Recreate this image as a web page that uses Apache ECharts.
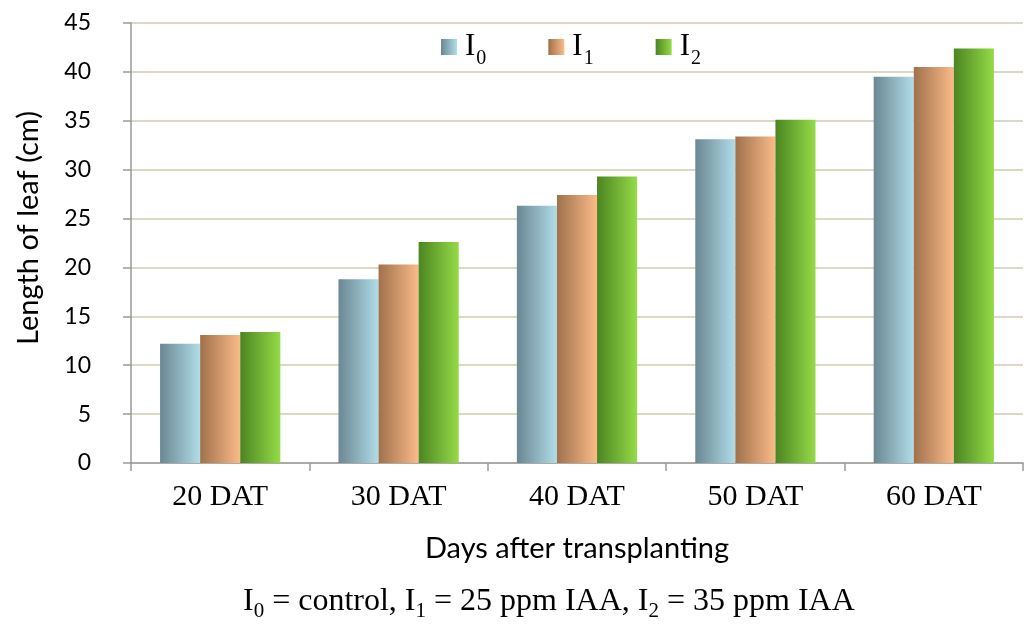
<!DOCTYPE html>
<html>
<head>
<meta charset="utf-8">
<script src="https://cdn.jsdelivr.net/npm/echarts@6/dist/echarts.min.js"></script>
<style>
  html, body { margin: 0; padding: 0; background: #ffffff; }
  #chart { width: 1025px; height: 625px; }
</style>
</head>
<body>
<div id="chart"></div>
<script>
// Leaf length (cm) by days after transplanting, for three IAA treatments
const categories = ['20 DAT', '30 DAT', '40 DAT', '50 DAT', '60 DAT'];
const seriesNames = ['I0', 'I1', 'I2'];
const valuesI0 = [12.2, 18.8, 26.3, 33.1, 39.5];
const valuesI1 = [13.1, 20.3, 27.4, 33.4, 40.5];
const valuesI2 = [13.4, 22.6, 29.3, 35.1, 42.4];
const yTicks = [0, 5, 10, 15, 20, 25, 30, 35, 40, 45];

// left-to-right shading for each treatment
const shades = [
  ['#6b8792', '#b0dde9'],
  ['#a0714c', '#fbbb88'],
  ['#4b8521', '#95db48']
];

function gradient(pair) {
  return {
    type: 'linear', x: 0, y: 0, x2: 1, y2: 0,
    colorStops: [{ offset: 0, color: pair[0] }, { offset: 1, color: pair[1] }]
  };
}

const serif = '"Liberation Serif", "Times New Roman", serif';
const sans = 'Lato, "Noto Sans", sans-serif';

const chart = echarts.init(document.getElementById('chart'));
const allValues = [valuesI0, valuesI1, valuesI2];

chart.setOption({
  animation: false,
  backgroundColor: '#ffffff',
  grid: { left: 131, right: 2, top: 23, bottom: 162 },
  legend: {
    left: 436,
    top: 26,
    itemWidth: 16,
    itemHeight: 16,
    itemGap: 62,
    icon: 'rect',
    data: seriesNames,
    formatter: function (name) {
      return '{m|I}{s|' + name.slice(1) + '}';
    },
    textStyle: {
      padding: [0, 0, 0, 3],
      rich: {
        m: { fontFamily: serif, fontSize: 31, color: '#000', lineHeight: 30, verticalAlign: 'bottom' },
        s: { fontFamily: serif, fontSize: 20, color: '#000', lineHeight: 20, verticalAlign: 'bottom', padding: [0, 0, -7, 1] }
      }
    }
  },
  xAxis: {
    type: 'category',
    data: categories,
    name: 'Days after transplanting',
    nameLocation: 'middle',
    nameGap: 71,
    nameTextStyle: { fontFamily: sans, fontSize: 29, color: '#000' },
    axisLine: { lineStyle: { color: '#9a9a9a', width: 1.5 } },
    axisTick: { show: true, alignWithLabel: false, length: 8, lineStyle: { color: '#9a9a9a', width: 1.5 } },
    axisLabel: { fontFamily: serif, fontSize: 30, color: '#000', margin: 19 },
    splitLine: { show: false }
  },
  yAxis: {
    type: 'value',
    min: 0,
    max: 45,
    interval: 5,
    axisLine: { show: true, lineStyle: { color: '#9a9a9a', width: 1.5 } },
    axisTick: { show: true, length: 8, lineStyle: { color: '#9a9a9a', width: 1.5 } },
    axisLabel: {
      fontFamily: sans, fontSize: 23, color: '#000', margin: 40,
      formatter: function (v) { return yTicks.indexOf(v) >= 0 ? String(v) : ''; }
    },
    splitLine: { show: true, lineStyle: { color: '#ddd8c4', width: 2 } }
  },
  series: seriesNames.map(function (name, i) {
    return {
      name: name,
      type: 'bar',
      data: allValues[i],
      barGap: '0%',
      barCategoryGap: '32.6%',
      itemStyle: { color: gradient(shades[i]) }
    };
  }),
  graphic: [
    {
      // vertical axis title
      type: 'text',
      x: 29,
      y: 228,
      rotation: Math.PI / 2,
      style: {
        text: 'Length of leaf (cm)',
        fontFamily: sans,
        fontSize: 29,
        fill: '#000',
        align: 'center',
        verticalAlign: 'middle'
      }
    },
    {
      // treatment key below the chart
      type: 'text',
      left: 243,
      top: 586,
      style: {
        text: '{m|I}{s|0}{m| = control, I}{s|1}{m| = 25 ppm IAA, I}{s|2}{m| = 35 ppm IAA}',
        rich: {
          m: { fontFamily: serif, fontSize: 32, fill: '#000', lineHeight: 34, verticalAlign: 'bottom' },
          s: { fontFamily: serif, fontSize: 21, fill: '#000', lineHeight: 22, verticalAlign: 'bottom', padding: [0, 0, -4, 0] }
        }
      }
    }
  ]
});
</script>
</body>
</html>
